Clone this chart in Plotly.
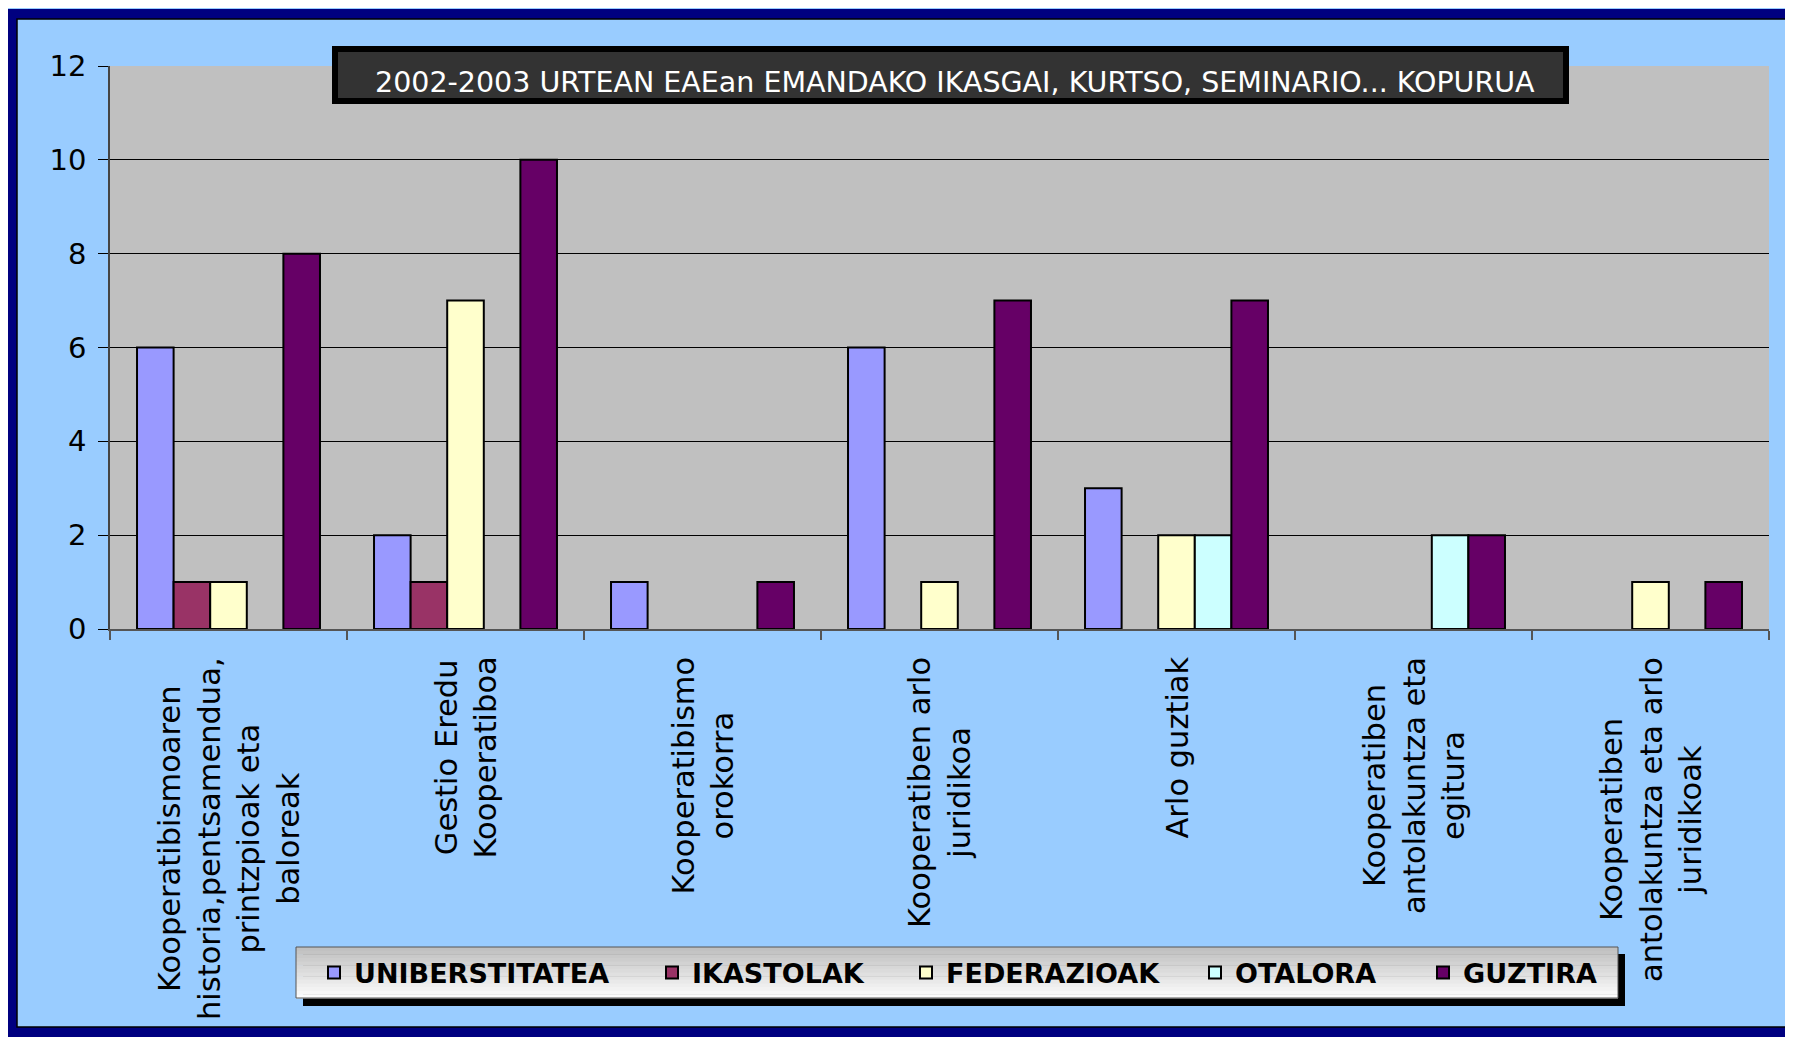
import plotly.graph_objects as go

categories = [
    "Kooperatibismoaren<br>historia,pentsamendua,<br>printzpioak eta<br>baloreak",
    "Gestio Eredu<br>Kooperatiboa",
    "Kooperatibismo<br>orokorra",
    "Kooperatiben arlo<br>juridikoa",
    "Arlo guztiak",
    "Kooperatiben<br>antolakuntza eta<br>egitura",
    "Kooperatiben<br>antolakuntza eta arlo<br>juridikoak",
]
series_names = ["UNIBERSTITATEA", "IKASTOLAK", "FEDERAZIOAK", "OTALORA", "GUZTIRA"]
uniberstitatea = [6, 2, 1, 6, 3, None, None]
ikastolak = [1, 1, None, None, None, None, None]
federazioak = [1, 7, None, 1, 2, None, 1]
otalora = [None, None, None, None, 2, 2, None]
guztira = [8, 10, 1, 7, 7, 2, 1]
series_values = [uniberstitatea, ikastolak, federazioak, otalora, guztira]
series_colors = ["#9999FF", "#993366", "#FFFFCC", "#CCFFFF", "#660066"]
y_ticks = [0, 2, 4, 6, 8, 10, 12]
title_text = "2002-2003 URTEAN EAEan EMANDAKO IKASGAI, KURTSO, SEMINARIO... KOPURUA"

# page-pixel layout (figure is offset by the 8px body margin)
OFF = 8
PL, PR, PT, PB = 110, 1769, 66, 629
W, H = 1785, 1029


def px(x):
    return (x - PL) / (PR - PL)


def py(y):
    return (PB - y) / (PB - PT)


fig = go.Figure()
legend_marker_x = [334, 672, 926, 1215, 1443]
for i, (name, vals, col) in enumerate(zip(series_names, series_values, series_colors)):
    lg = "legend" if i == 0 else f"legend{i + 1}"
    fig.add_trace(go.Bar(
        x=categories, y=vals, name=name,
        marker=dict(color=col, line=dict(color="black", width=2)),
        legend=lg,
    ))

legend_font = dict(family="DejaVu Sans", size=27, color="black", weight="bold")
legends = {}
for i, mx in enumerate(legend_marker_x):
    key = "legend" if i == 0 else f"legend{i + 1}"
    legends[key] = dict(
        x=px(mx - 20), y=py(973), xanchor="left", yanchor="middle",
        orientation="h", bgcolor="rgba(0,0,0,0)", borderwidth=0,
        font=legend_font,
    )

shapes = []
# navy outer frame
shapes.append(dict(type="rect", xref="paper", yref="paper",
                   x0=px(12), x1=px(1792), y0=py(14), y1=py(1032),
                   line=dict(color="#000080", width=10), fillcolor="rgba(0,0,0,0)", layer="below"))
shapes.append(dict(type="rect", xref="paper", yref="paper",
                   x0=px(17), x1=px(1787), y0=py(19), y1=py(1027),
                   line=dict(color="#000000", width=1.5), fillcolor="rgba(0,0,0,0)", layer="below"))
# title box
shapes.append(dict(type="rect", xref="paper", yref="paper",
                   x0=px(335), x1=px(1566), y0=py(49), y1=py(101),
                   line=dict(color="black", width=6), fillcolor="#333333", layer="above"))
# legend box: shadow + gradient
shapes.append(dict(type="rect", xref="paper", yref="paper",
                   x0=px(303), x1=px(1625), y0=py(954), y1=py(1006),
                   line=dict(width=0), fillcolor="black", layer="above"))
n_bands = 14
top, bot = 947, 998
for k in range(n_bands):
    t = k / (n_bands - 1)
    g = int(192 + (252 - 192) * t)
    y0 = top + (bot - top) * k / n_bands
    y1 = top + (bot - top) * (k + 1) / n_bands
    shapes.append(dict(type="rect", xref="paper", yref="paper",
                       x0=px(296), x1=px(1618), y0=py(y0), y1=py(y1 + 0.5),
                       line=dict(width=0), fillcolor=f"rgb({g},{g},{g})", layer="above"))
shapes.append(dict(type="rect", xref="paper", yref="paper",
                   x0=px(296), x1=px(1618), y0=py(947), y1=py(998),
                   line=dict(color="#555555", width=1), fillcolor="rgba(0,0,0,0)", layer="above"))

annotations = [dict(
    text=title_text, xref="paper", yref="paper", x=px(955), y=py(83),
    xanchor="center", yanchor="middle", showarrow=False,
    font=dict(family="DejaVu Sans", size=28.5, color="white"),
)]
for c in categories:
    annotations.append(dict(
        text=c, x=c, xref="x", y=0, yref="y", xanchor="center", yanchor="top",
        yshift=-26, textangle=-90, showarrow=False, align="center",
        font=dict(family="DejaVu Sans", size=30.5, color="black"),
    ))

fig.update_layout(
    width=W, height=H, autosize=False,
    margin=dict(l=PL - OFF, r=(OFF + W) - PR, t=PT - OFF, b=(OFF + H) - PB, pad=0),
    paper_bgcolor="#99CCFF", plot_bgcolor="#C0C0C0",
    barmode="group", bargap=0.228, bargroupgap=0,
    showlegend=True,
    shapes=shapes, annotations=annotations,
    font=dict(family="DejaVu Sans", color="black"),
    xaxis=dict(type="category", categoryorder="array", categoryarray=categories,
               showticklabels=False, tickson="boundaries", ticks="outside",
               ticklen=9, tickcolor="#555555", tickwidth=1.5, showgrid=False,
               showline=True, linecolor="#555555", linewidth=1.5, zeroline=False),
    yaxis=dict(range=[0, 12], tickvals=y_ticks, ticks="outside", ticklen=10,
               tickcolor="black", tickwidth=1, showgrid=True, gridcolor="black",
               gridwidth=1, showline=True, linecolor="#444444", linewidth=1.5,
               zeroline=False, ticklabelstandoff=6,
               tickfont=dict(family="DejaVu Sans", size=29, color="black")),
    **legends,
)

fig.write_html("out.html")
